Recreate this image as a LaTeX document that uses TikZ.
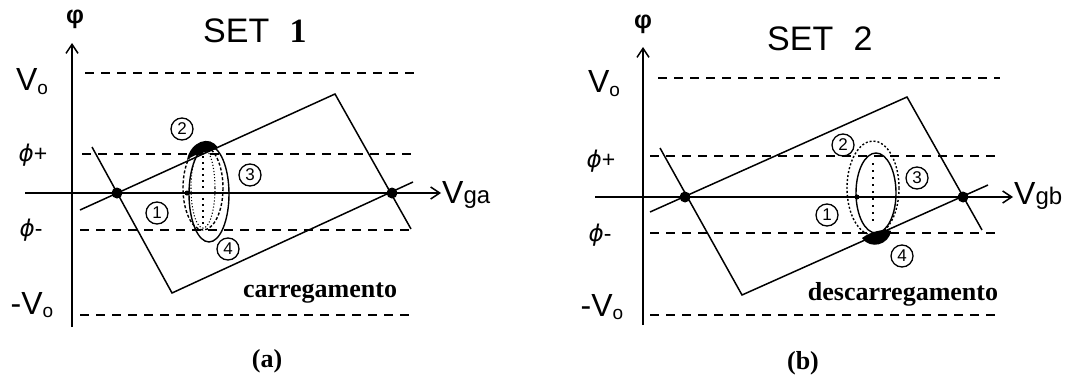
\documentclass[tikz,border=0pt]{standalone}
\usepackage{fontspec}
\setmainfont{Liberation Serif}
\setsansfont{Liberation Sans}
\newfontfamily\dvs{DejaVu Sans}
\usetikzlibrary{arrows.meta}
\begin{document}
\begin{tikzpicture}[x=1pt,y=-1pt,
  axis/.style={line width=2.2pt,-{Straight Barb[length=9pt,width=12pt,line width=1.5pt]}},
  lvl/.style={line width=1.9pt,dash pattern=on 9pt off 7pt},
  rect/.style={line width=1.5pt},
  dotn/.style={circle,fill=black,inner sep=0pt,minimum size=11pt},
  smalldot/.style={circle,fill=black,inner sep=0pt,minimum size=5pt},
  num/.style={circle,draw,line width=1.3pt,inner sep=0pt,minimum size=22pt,font=\sffamily\fontsize{17}{17}\selectfont},
  lab/.style={font=\sffamily\fontsize{23}{23}\selectfont,inner sep=0pt},
  vlab/.style={font=\sffamily\fontsize{32}{32}\selectfont,inner sep=0pt},
  title/.style={font=\sffamily\fontsize{34}{34}\selectfont,inner sep=0pt},
  word/.style={font=\bfseries\fontsize{26}{26}\selectfont,inner sep=0pt},
  sublab/.style={font=\bfseries\fontsize{26}{26}\selectfont,inner sep=0pt},
  phil/.style={font=\sffamily\bfseries\fontsize{25}{25}\selectfont,inner sep=0pt},
  ell/.style={line width=1.4pt}
]
\useasboundingbox (0,0) rectangle (1067,380);
\newcommand{\Vo}{V\raisebox{-0.12em}{\fontsize{19}{19}\selectfont o}}
\newcommand{\vph}{{\dvs\itshape ϕ}}

% ================= Panel (a) =================
\coordinate (ay0) at (72,327);
\coordinate (ay1) at (72,43);
\coordinate (ax0) at (25,193);
\coordinate (ax1) at (441,193);
\draw[axis] (ay0) -- (ay1);
\draw[axis] (ax0) -- (ax1);

\coordinate (aV1) at (85,73);   \coordinate (aV2) at (415,73);
\coordinate (aP1) at (82,154);  \coordinate (aP2) at (412,154);
\coordinate (aM1) at (80,230);  \coordinate (aM2) at (410,230);
\coordinate (aN1) at (80,315);  \coordinate (aN2) at (410,315);
\draw[lvl] (aV1) -- (aV2);
\draw[lvl] (aP1) -- (aP2);
\draw[lvl] (aM1) -- (aM2);
\draw[lvl] (aN1) -- (aN2);

\coordinate (aT0) at (80,210);
\coordinate (aTR) at (335,94);
\coordinate (aR1) at (411,229);
\coordinate (aL0) at (92,147);
\coordinate (aBL) at (172,293);
\coordinate (aB1) at (413,182);
\draw[rect] (aT0) -- (aTR) -- (aR1);
\draw[rect] (aL0) -- (aBL) -- (aB1);

\node[dotn] (ad1) at (117,193) {};
\node[dotn] (ad2) at (392,193) {};
\node[smalldot] (ad3) at (187,193) {};

\draw[ell,dash pattern=on 3pt off 2pt] (203,188) ellipse [x radius=20, y radius=42];
\draw[ell] (209,194) ellipse [x radius=20, y radius=48];
\draw[line width=1.1pt,dotted] (203,188) ellipse [x radius=12, y radius=40];
\draw[line width=1.1pt,dash pattern=on 2pt off 4pt] (203,150) -- (203,228);
\fill (187,160) .. controls (190,142) and (210,134) .. (218,148) .. controls (210,152) and (195,153) .. cycle;

\node[num] (a1) at (157,213) {1};
\node[num] (a2) at (182,129) {2};
\node[num] (a3) at (250,175) {3};
\node[num] (a4) at (228,249) {4};

\node[word,anchor=base] (acar) at (320,297) {carregamento};
\node[title,anchor=base west] (aset) at (203,42) {SET\hspace{0.6em}{\rmfamily\bfseries 1}};

\node[phil] (aphi) at (75,19) {φ};
\node[vlab] (aVo) at (32,82) {\Vo};
\node[lab] (aPp) at (33,155) {\vph+};
\node[lab] (aPm) at (31,230) {\vph-};
\node[vlab] (aNo) at (32,305) {-\Vo};
\node[vlab,anchor=base west] (aVga) at (442,203) {V{\fontsize{24}{24}\selectfont ga}};

\node[sublab] (alab) at (267,361) {(a)};

% ================= Panel (b) =================
\coordinate (by0) at (643,325);
\coordinate (by1) at (643,47);
\coordinate (bx0) at (595,197);
\coordinate (bx1) at (1013,197);
\draw[axis] (by0) -- (by1);
\draw[axis] (bx0) -- (bx1);

\coordinate (bV1) at (658,78);   \coordinate (bV2) at (1000,78);
\coordinate (bP1) at (650,156);  \coordinate (bP2) at (1000,156);
\coordinate (bM1) at (650,233);  \coordinate (bM2) at (1000,233);
\coordinate (bN1) at (650,315);  \coordinate (bN2) at (1000,315);
\draw[lvl] (bV1) -- (bV2);
\draw[lvl] (bP1) -- (bP2);
\draw[lvl] (bM1) -- (bM2);
\draw[lvl] (bN1) -- (bN2);

\coordinate (bT0) at (650,212);
\coordinate (bTR) at (907,97);
\coordinate (bR1) at (982,230);
\coordinate (bL0) at (660,148);
\coordinate (bBL) at (742,295);
\coordinate (bB1) at (988,185);
\draw[rect] (bT0) -- (bTR) -- (bR1);
\draw[rect] (bL0) -- (bBL) -- (bB1);

\node[dotn] (bd1) at (685,197) {};
\node[dotn] (bd2) at (963,197) {};
\node[smalldot] (bd3) at (857,197) {};

\draw[ell,dash pattern=on 2pt off 2pt] (873,188) ellipse [x radius=26, y radius=47];
\draw[ell] (876,193) ellipse [x radius=20, y radius=40];
\draw[line width=1.1pt,dash pattern=on 2pt off 5pt] (873,163) -- (873,222);
\fill (862,238) .. controls (870,232) and (884,228) .. (891,231) .. controls (889,245) and (870,250) .. cycle;

\node[num] (b1) at (827,215) {1};
\node[num] (b2) at (843,145) {2};
\node[num] (b3) at (917,178) {3};
\node[num] (b4) at (902,256) {4};

\node[word,anchor=base] (bdes) at (903,300) {descarregamento};
\node[title,anchor=base west] (bset) at (767,50) {SET\hspace{0.6em}2};

\node[phil] (bphi) at (643,24) {φ};
\node[vlab] (bVo) at (604,84) {\Vo};
\node[lab] (bPp) at (601,161) {\vph+};
\node[lab] (bPm) at (600,235) {\vph-};
\node[vlab] (bNo) at (602,307) {-\Vo};
\node[vlab,anchor=base west] (bVgb) at (1014,204) {V{\fontsize{24}{24}\selectfont gb}};

\node[sublab] (blab) at (803,363) {(b)};
\end{tikzpicture}
\end{document}
